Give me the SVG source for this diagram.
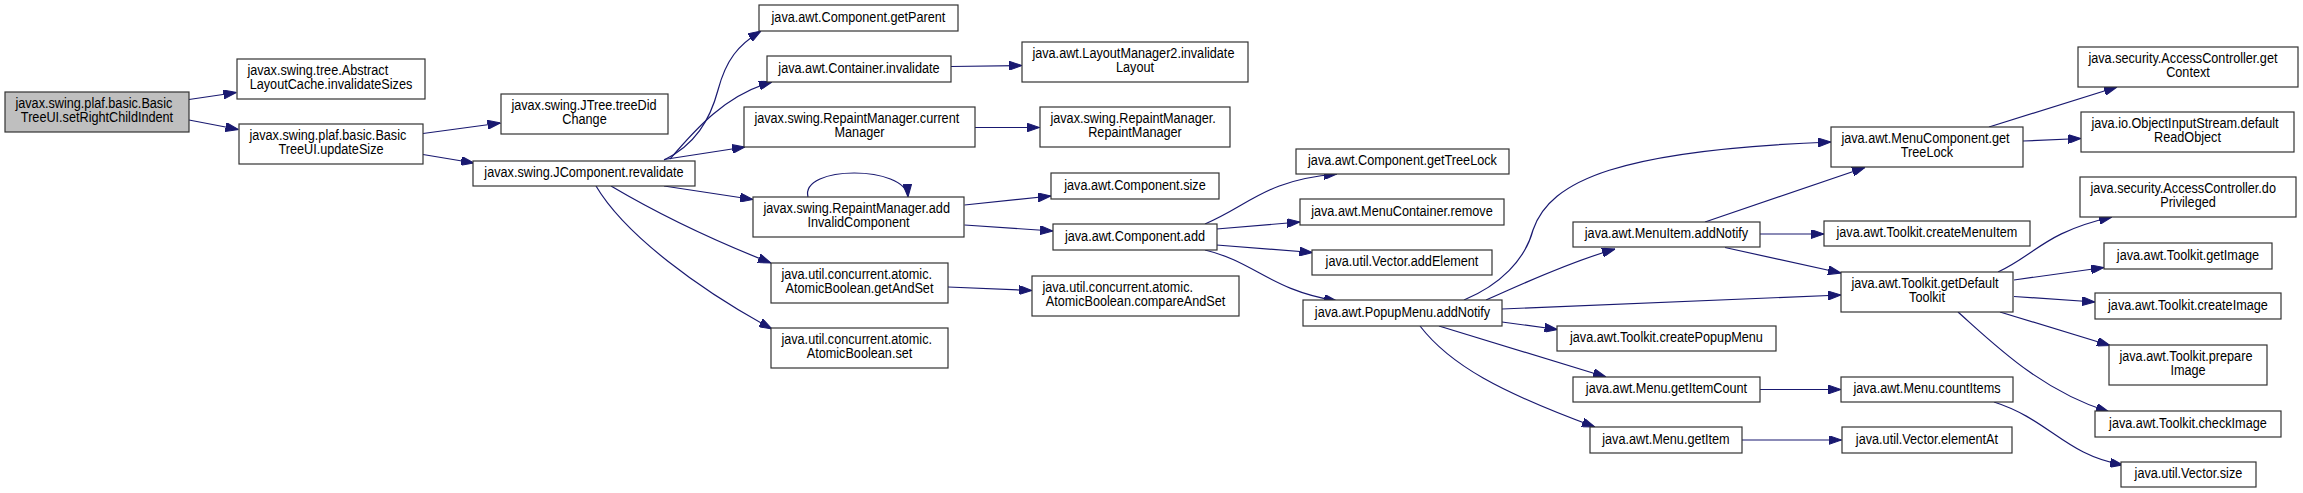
<svg xmlns="http://www.w3.org/2000/svg" width="2303" height="493" viewBox="0 0 2303 493">
<style>
.b{fill:#ffffff;stroke:#333333;stroke-width:1.2}
.r{fill:#bfbfbf;stroke:#333333;stroke-width:1.2}
text{font-family:"Liberation Sans",Arial,sans-serif;font-size:14px;fill:#000000;transform-box:fill-box;transform-origin:50% 50%;transform:scaleX(0.905)}
.m{text-anchor:middle}
.s{text-anchor:start;transform-origin:0% 50%}
.e path{fill:none;stroke:#191970;stroke-width:1.2;marker-end:url(#ah)}
</style>
<defs>
<marker id="ah" markerUnits="userSpaceOnUse" markerWidth="13" markerHeight="9" refX="13" refY="4.5" orient="auto">
<path d="M0,0 L13,4.5 L0,9 z" fill="#191970" stroke="#191970" stroke-width="1"/>
</marker>
</defs>
<rect width="2303" height="493" fill="#ffffff"/>
<g class="e" id="edges">
<path d="M189,99.5 L236.5,92.5"/>
<path d="M189,120 L238.5,129.5"/>
<path d="M423,133.5 L500.5,123"/>
<path d="M423,154.5 L474,163"/>
<path d="M664,160 C695,145 710,120 718,90 C726,60 738,45 761,31"/>
<path d="M670,159 C695,130 725,95 772,82"/>
<path d="M664,159.5 L745,147"/>
<path d="M664,186 L753,199.5"/>
<path d="M611,186 C660,215 720,243 771,263"/>
<path d="M596,186 C625,235 700,290 772,329"/>
<path d="M975,127.5 L1039.5,127.5"/>
<path d="M951,66.5 L1022,65.5"/>
<path d="M808,197 C800,165 906,165 908,197"/>
<path d="M964.5,205 L1051,196"/>
<path d="M964.5,225 L1053,231"/>
<path d="M948,287 L1032,290.5"/>
<path d="M1205,224 C1250,205 1265,180 1337,174"/>
<path d="M1216.5,229 L1300,222"/>
<path d="M1216.5,245 L1312.5,252.5"/>
<path d="M1205,250 C1255,262 1270,290 1337,301"/>
<path d="M1464,300 C1500,285 1525,260 1533,230 C1550,180 1620,150 1831,142"/>
<path d="M1486,300 C1510,290 1560,265 1615,249"/>
<path d="M1502,309 L1841,295"/>
<path d="M1502,322 L1557.5,329.5"/>
<path d="M1439,326 L1606,377"/>
<path d="M1420,326 C1450,365 1500,392 1595,427"/>
<path d="M1705,222 L1865,167.5"/>
<path d="M1760,234 L1824,234"/>
<path d="M1725,247.5 L1841,273"/>
<path d="M1989,127 L2117,87"/>
<path d="M2023,141 L2081,138.5"/>
<path d="M1998,272 C2035,255 2045,232 2112,217"/>
<path d="M2014,280 L2104,267.5"/>
<path d="M2014,296.5 L2095,302"/>
<path d="M2000,312 L2110,345.5"/>
<path d="M1958,312 C1995,345 2040,390 2109,412"/>
<path d="M1760,389.5 L1841,389.5"/>
<path d="M1742,440 L1841.5,440"/>
<path d="M1994,402 C2050,420 2065,455 2123,465"/>
</g>
<g id="n0"><rect class="r" x="5" y="92" width="184" height="40"/><text class="s" x="15.5" y="108.5">javax.swing.plaf.basic.Basic</text><text class="m" x="97" y="122.5">TreeUI.setRightChildIndent</text></g>
<g id="n1"><rect class="b" x="237" y="59" width="188" height="40"/><text class="s" x="247.5" y="75.5">javax.swing.tree.Abstract</text><text class="m" x="331" y="89.5">LayoutCache.invalidateSizes</text></g>
<g id="n2"><rect class="b" x="239" y="124" width="184" height="40"/><text class="s" x="249.5" y="140.5">javax.swing.plaf.basic.Basic</text><text class="m" x="331" y="154.5">TreeUI.updateSize</text></g>
<g id="n3"><rect class="b" x="501" y="94" width="167" height="40"/><text class="s" x="511.5" y="110.5">javax.swing.JTree.treeDid</text><text class="m" x="584.5" y="124.5">Change</text></g>
<g id="n4"><rect class="b" x="473" y="161" width="222" height="25"/><text class="m" x="584" y="177.5">javax.swing.JComponent.revalidate</text></g>
<g id="n5"><rect class="b" x="759" y="5" width="199" height="26"/><text class="m" x="858.5" y="22">java.awt.Component.getParent</text></g>
<g id="n6"><rect class="b" x="767" y="56" width="184" height="26"/><text class="m" x="859" y="73">java.awt.Container.invalidate</text></g>
<g id="n7"><rect class="b" x="744" y="107" width="231" height="40"/><text class="s" x="754.5" y="123.5">javax.swing.RepaintManager.current</text><text class="m" x="859.5" y="137.5">Manager</text></g>
<g id="n8"><rect class="b" x="753" y="197" width="211" height="40"/><text class="s" x="763.5" y="213.5">javax.swing.RepaintManager.add</text><text class="m" x="858.5" y="227.5">InvalidComponent</text></g>
<g id="n9"><rect class="b" x="771" y="263" width="177" height="40"/><text class="s" x="781.5" y="279.5">java.util.concurrent.atomic.</text><text class="m" x="859.5" y="293.5">AtomicBoolean.getAndSet</text></g>
<g id="n10"><rect class="b" x="771" y="328" width="177" height="40"/><text class="s" x="781.5" y="344.5">java.util.concurrent.atomic.</text><text class="m" x="859.5" y="358.5">AtomicBoolean.set</text></g>
<g id="n11"><rect class="b" x="1022" y="42" width="226" height="40"/><text class="s" x="1032.5" y="58.5">java.awt.LayoutManager2.invalidate</text><text class="m" x="1135" y="72.5">Layout</text></g>
<g id="n12"><rect class="b" x="1040" y="107" width="190" height="40"/><text class="s" x="1050.5" y="123.5">javax.swing.RepaintManager.</text><text class="m" x="1135" y="137.5">RepaintManager</text></g>
<g id="n13"><rect class="b" x="1051" y="173" width="168" height="26"/><text class="m" x="1135" y="190">java.awt.Component.size</text></g>
<g id="n14"><rect class="b" x="1053" y="224" width="164" height="26"/><text class="m" x="1135" y="241">java.awt.Component.add</text></g>
<g id="n15"><rect class="b" x="1032" y="276" width="207" height="40"/><text class="s" x="1042.5" y="292.5">java.util.concurrent.atomic.</text><text class="m" x="1135.5" y="306.5">AtomicBoolean.compareAndSet</text></g>
<g id="n16"><rect class="b" x="1296" y="149" width="213" height="25"/><text class="m" x="1402.5" y="165.5">java.awt.Component.getTreeLock</text></g>
<g id="n17"><rect class="b" x="1300" y="199" width="204" height="26"/><text class="m" x="1402" y="216">java.awt.MenuContainer.remove</text></g>
<g id="n18"><rect class="b" x="1312" y="250" width="180" height="25"/><text class="m" x="1402" y="266.5">java.util.Vector.addElement</text></g>
<g id="n19"><rect class="b" x="1303" y="300" width="199" height="26"/><text class="m" x="1402.5" y="317">java.awt.PopupMenu.addNotify</text></g>
<g id="n20"><rect class="b" x="1573" y="222" width="187" height="25"/><text class="m" x="1666.5" y="238.5">java.awt.MenuItem.addNotify</text></g>
<g id="n21"><rect class="b" x="1557" y="326" width="219" height="25"/><text class="m" x="1666.5" y="342.5">java.awt.Toolkit.createPopupMenu</text></g>
<g id="n22"><rect class="b" x="1573" y="377" width="187" height="25"/><text class="m" x="1666.5" y="393.5">java.awt.Menu.getItemCount</text></g>
<g id="n23"><rect class="b" x="1590" y="427" width="152" height="26"/><text class="m" x="1666" y="444">java.awt.Menu.getItem</text></g>
<g id="n24"><rect class="b" x="1831" y="127" width="192" height="40"/><text class="s" x="1841.5" y="143.5">java.awt.MenuComponent.get</text><text class="m" x="1927" y="157.5">TreeLock</text></g>
<g id="n25"><rect class="b" x="1824" y="221" width="206" height="25"/><text class="m" x="1927" y="237.5">java.awt.Toolkit.createMenuItem</text></g>
<g id="n26"><rect class="b" x="1841" y="272" width="172" height="40"/><text class="s" x="1851.5" y="288.5">java.awt.Toolkit.getDefault</text><text class="m" x="1927" y="302.5">Toolkit</text></g>
<g id="n27"><rect class="b" x="1841" y="377" width="172" height="25"/><text class="m" x="1927" y="393.5">java.awt.Menu.countItems</text></g>
<g id="n28"><rect class="b" x="1842" y="427" width="170" height="26"/><text class="m" x="1927" y="444">java.util.Vector.elementAt</text></g>
<g id="n29"><rect class="b" x="2078" y="47" width="220" height="40"/><text class="s" x="2088.5" y="63.5">java.security.AccessController.get</text><text class="m" x="2188" y="77.5">Context</text></g>
<g id="n30"><rect class="b" x="2081" y="112" width="213" height="40"/><text class="s" x="2091.5" y="128.5">java.io.ObjectInputStream.default</text><text class="m" x="2187.5" y="142.5">ReadObject</text></g>
<g id="n31"><rect class="b" x="2080" y="177" width="216" height="40"/><text class="s" x="2090.5" y="193.5">java.security.AccessController.do</text><text class="m" x="2188" y="207.5">Privileged</text></g>
<g id="n32"><rect class="b" x="2104" y="243" width="168" height="26"/><text class="m" x="2188" y="260">java.awt.Toolkit.getImage</text></g>
<g id="n33"><rect class="b" x="2095" y="293" width="186" height="26"/><text class="m" x="2188" y="310">java.awt.Toolkit.createImage</text></g>
<g id="n34"><rect class="b" x="2109" y="345" width="158" height="40"/><text class="s" x="2119.5" y="361.5">java.awt.Toolkit.prepare</text><text class="m" x="2188" y="375.5">Image</text></g>
<g id="n35"><rect class="b" x="2095" y="411" width="186" height="26"/><text class="m" x="2188" y="428">java.awt.Toolkit.checkImage</text></g>
<g id="n36"><rect class="b" x="2121" y="462" width="135" height="25"/><text class="m" x="2188.5" y="478.5">java.util.Vector.size</text></g>
</svg>
